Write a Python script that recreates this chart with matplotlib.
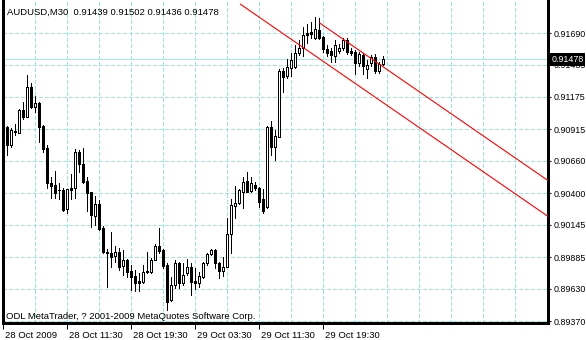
import matplotlib
matplotlib.use("Agg")
import matplotlib.pyplot as plt
import matplotlib.transforms as mtransforms

plt.rcParams['font.family'] = ['Liberation Sans', 'DejaVu Sans']

# ---- data ----
opens = [0.91231, 0.90933, 0.90788, 0.90893, 0.90885, 0.91070, 0.91014, 0.91255, 0.91094, 0.91126,
         0.90941, 0.90764, 0.90482, 0.90466, 0.90426, 0.90426, 0.90273, 0.90442, 0.90442, 0.90732,
         0.90635, 0.90498, 0.90409, 0.90216, 0.90313, 0.90119, 0.89926, 0.89918, 0.89894, 0.89926,
         0.89813, 0.89862, 0.89773, 0.89733, 0.89693, 0.89685, 0.89765, 0.89765, 0.89862, 0.89975,
         0.89942, 0.89821, 0.89540, 0.89660, 0.89838, 0.89676, 0.89757, 0.89805, 0.89693, 0.89676,
         0.89725, 0.89838, 0.89910, 0.89942, 0.89838, 0.89773, 0.89805, 0.90071, 0.90297, 0.90321,
         0.90409, 0.90498, 0.90418, 0.90466, 0.90442, 0.90353, 0.90289, 0.90933, 0.90772, 0.90852,
         0.91384, 0.91344, 0.91408, 0.91416, 0.91529, 0.91569, 0.91690, 0.91698, 0.91650, 0.91714,
         0.91658, 0.91561, 0.91545, 0.91505, 0.91545, 0.91569, 0.91634, 0.91545, 0.91537, 0.91448,
         0.91513, 0.91400, 0.91448, 0.91497, 0.91384, 0.91439]
highs = [0.91263, 0.90941, 0.90925, 0.90957, 0.91078, 0.91134, 0.91352, 0.91287, 0.91183, 0.91134,
         0.90949, 0.90788, 0.90530, 0.90579, 0.90482, 0.90442, 0.90434, 0.90554, 0.90756, 0.90748,
         0.90764, 0.90530, 0.90409, 0.90377, 0.90345, 0.90136, 0.89950, 0.90087, 0.89975, 0.89958,
         0.89942, 0.89870, 0.89821, 0.89781, 0.89757, 0.89821, 0.89926, 0.89878, 0.89991, 0.90119,
         0.89950, 0.89838, 0.89725, 0.89862, 0.89846, 0.89838, 0.89870, 0.89838, 0.89797, 0.89765,
         0.89846, 0.89918, 0.89950, 0.89950, 0.89846, 0.89886, 0.90200, 0.90353, 0.90458, 0.90434,
         0.90530, 0.90571, 0.90530, 0.90490, 0.90450, 0.90434, 0.90941, 0.90981, 0.90909, 0.91400,
         0.91408, 0.91481, 0.91529, 0.91594, 0.91634, 0.91739, 0.91763, 0.91779, 0.91819, 0.91811,
         0.91666, 0.91594, 0.91569, 0.91634, 0.91602, 0.91650, 0.91650, 0.91569, 0.91553, 0.91537,
         0.91529, 0.91473, 0.91513, 0.91521, 0.91457, 0.91502]
lows = [0.90828, 0.90707, 0.90772, 0.90869, 0.90885, 0.90997, 0.91014, 0.91086, 0.91054, 0.90812,
        0.90732, 0.90442, 0.90361, 0.90361, 0.90353, 0.90256, 0.90240, 0.90353, 0.90361, 0.90571,
        0.90482, 0.90256, 0.90128, 0.90144, 0.90103, 0.89918, 0.89644, 0.89805, 0.89846, 0.89781,
        0.89741, 0.89725, 0.89620, 0.89612, 0.89612, 0.89676, 0.89757, 0.89757, 0.89862, 0.89918,
        0.89797, 0.89459, 0.89531, 0.89636, 0.89636, 0.89660, 0.89741, 0.89580, 0.89628, 0.89644,
        0.89717, 0.89821, 0.89902, 0.89797, 0.89717, 0.89733, 0.89805, 0.89918, 0.90200, 0.90313,
        0.90281, 0.90409, 0.90409, 0.90426, 0.90289, 0.90240, 0.90281, 0.90707, 0.90667, 0.90852,
        0.91215, 0.91328, 0.91344, 0.91408, 0.91513, 0.91505, 0.91610, 0.91650, 0.91642, 0.91642,
        0.91537, 0.91505, 0.91457, 0.91457, 0.91529, 0.91553, 0.91521, 0.91513, 0.91360, 0.91424,
        0.91360, 0.91328, 0.91424, 0.91368, 0.91368, 0.91436]
closes = [0.90925, 0.90788, 0.90909, 0.90901, 0.91070, 0.91014, 0.91255, 0.91094, 0.91126, 0.90933,
          0.90756, 0.90482, 0.90458, 0.90401, 0.90422, 0.90264, 0.90434, 0.90426, 0.90732, 0.90635,
          0.90490, 0.90401, 0.90224, 0.90313, 0.90111, 0.89926, 0.89918, 0.89886, 0.89926, 0.89805,
          0.89862, 0.89765, 0.89725, 0.89676, 0.89676, 0.89765, 0.89769, 0.89862, 0.89975, 0.89934,
          0.89813, 0.89523, 0.89660, 0.89838, 0.89676, 0.89741, 0.89805, 0.89685, 0.89676, 0.89733,
          0.89838, 0.89910, 0.89942, 0.89838, 0.89773, 0.89805, 0.90071, 0.90305, 0.90321, 0.90426,
          0.90490, 0.90409, 0.90482, 0.90442, 0.90329, 0.90256, 0.90933, 0.90772, 0.90861, 0.91384,
          0.91336, 0.91416, 0.91473, 0.91529, 0.91569, 0.91674, 0.91674, 0.91682, 0.91722, 0.91650,
          0.91561, 0.91529, 0.91513, 0.91594, 0.91569, 0.91634, 0.91537, 0.91529, 0.91448, 0.91521,
          0.91424, 0.91432, 0.91497, 0.91384, 0.91440, 0.91478]

time_labels = ["28 Oct 2009", "28 Oct 11:30", "28 Oct 19:30", "29 Oct 03:30", "29 Oct 11:30", "29 Oct 19:30"]
time_label_bars = [0, 16, 32, 48, 64, 80]
price_ticks = [0.91690, 0.91435, 0.91175, 0.90915, 0.90660, 0.90400, 0.90145, 0.89885, 0.89630, 0.89370]
price_tick_labels = ["0.91690", "0.91435", "0.91175", "0.90915", "0.90660", "0.90400",
                     "0.90145", "0.89885", "0.89630", "0.89370"]
bid_price = 0.91478
# channel lines: (bar, price) end points
lower_line = [(59.2, 0.91924), (136.5, 0.90206)]
upper_line = [(79.0, 0.91773), (136.5, 0.90495)]

symbol_text = "AUDUSD,M30  0.91439 0.91502 0.91436 0.91478"
copyright_text = "ODL MetaTrader, ? 2001-2009 MetaQuotes Software Corp."

# ---- figure ----
W, H = 586, 340
fig = plt.figure(figsize=(W / 100, H / 100), dpi=100)
fig.patch.set_facecolor('white')
ax = fig.add_axes([2.5 / W, 17 / H, 545.5 / W, 323 / H])
ax.set_xlim(-0.2, 136.2)
ax.set_ylim(0.89354, 0.91956)

grid_col = '#9fe3df'
px = 0.72  # one pixel in points

# grid
for b in range(8, 137, 8):
    ax.axvline(b, color=grid_col, lw=px, ls=(0, (4, 2.5)), zorder=0, antialiased=False)
for p in price_ticks:
    ax.axhline(p, color=grid_col, lw=px, ls=(0, (4, 2.5)), zorder=0, antialiased=False)

# bid line
ax.axhline(bid_price, color='#a8e8e8', lw=px, zorder=1, antialiased=False)

# candles
xs = list(range(len(opens)))
ax.vlines(xs, lows, highs, color='black', lw=px, zorder=2, antialiaseds=False)
for x, o, h, l, c in zip(xs, opens, highs, lows, closes):
    bottom = min(o, c)
    height = max(abs(c - o), 0.00001)
    fc = 'white' if c > o else 'black'
    ax.bar(x, height, bottom=bottom, width=0.5, facecolor=fc, edgecolor='black',
           linewidth=px, zorder=3, antialiased=False)

# channel
ax.plot([lower_line[0][0], lower_line[1][0]], [lower_line[0][1], lower_line[1][1]],
        color='red', lw=0.8, zorder=4, solid_capstyle='butt')
ax.plot([upper_line[0][0], upper_line[1][0]], [upper_line[0][1], upper_line[1][1]],
        color='red', lw=0.8, zorder=4, solid_capstyle='butt')

# spines
for s in ['left', 'bottom', 'right']:
    ax.spines[s].set_linewidth(1.0)
    ax.spines[s].set_color('black')
    ax.spines[s].set_antialiased(False)
ax.spines['top'].set_visible(False)

# y ticks on right
ax.yaxis.tick_right()
ax.set_yticks(price_ticks)
ax.set_yticklabels(price_tick_labels)
ax.tick_params(axis='y', which='major', length=2.5, width=px, pad=1.2, labelsize=6.4, colors='black')

# x ticks
ax.set_xticks(time_label_bars)
ax.set_xticklabels(time_labels, ha='left')
ax.tick_params(axis='x', which='major', length=4, width=px, pad=2.0, labelsize=6.8, colors='black')
offset = mtransforms.ScaledTranslation(1.5 / 100, 0, fig.dpi_scale_trans)
for lab in ax.get_xticklabels():
    lab.set_transform(lab.get_transform() + offset)

# price label box
ax.text(1.006, bid_price, "0.91478", transform=ax.get_yaxis_transform(), ha='left', va='center',
        fontsize=6.4, color='white', zorder=10,
        bbox=dict(facecolor='black', edgecolor='none', boxstyle='square,pad=0.2'), clip_on=False)

# texts
fig.text(7 / W, 1 - 15 / H, symbol_text, fontsize=6.8, ha='left', va='baseline')
fig.text(6 / W, 1 - 319 / H, copyright_text, fontsize=6.8, ha='left', va='baseline')

fig.savefig('out.png', dpi=100, facecolor='white')
